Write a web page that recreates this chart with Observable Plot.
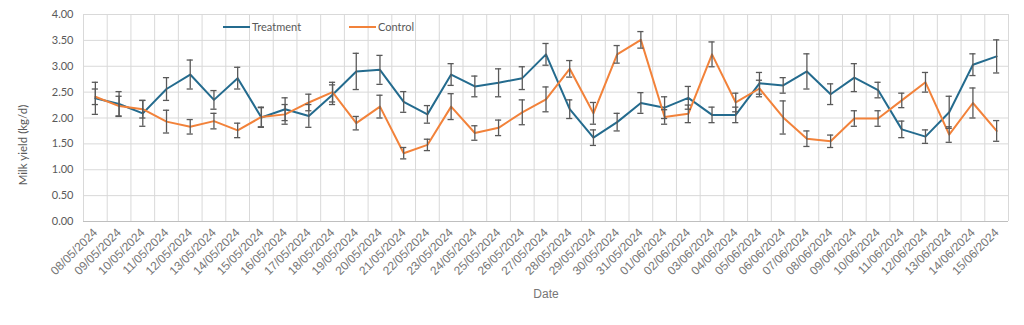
<!DOCTYPE html>
<html>
<head>
<meta charset="utf-8">
<script src="https://cdn.jsdelivr.net/npm/d3@7"></script>
<script src="https://cdn.jsdelivr.net/npm/@observablehq/plot@0.6"></script>
<style>
  html, body { margin: 0; padding: 0; background: #fff; }
  #wrap { position: relative; width: 1024px; height: 325px; font-family: Lato, "Liberation Sans", sans-serif; }
  .legend { position: absolute; top: 20px; left: 223px; display: flex; font-size: 11px; color: #595959; }
  .legend .item { display: flex; align-items: center; margin-right: 48px; }
  .legend .sw { width: 27px; height: 2px; margin-right: 2px; }
  .ylab { position: absolute; left: 22px; top: 145px; transform: translate(-50%, -50%) rotate(-90deg);
          white-space: nowrap; font-size: 11.5px; color: #595959; }
</style>
</head>
<body>
<div id="wrap"></div>
<script>
const dates = ["08/05/2024","09/05/2024","10/05/2024","11/05/2024","12/05/2024","13/05/2024","14/05/2024","15/05/2024","16/05/2024","17/05/2024","18/05/2024","19/05/2024","20/05/2024","21/05/2024","22/05/2024","23/05/2024","24/05/2024","25/05/2024","26/05/2024","27/05/2024","28/05/2024","29/05/2024","30/05/2024","31/05/2024","01/06/2024","02/06/2024","03/06/2024","04/06/2024","05/06/2024","06/06/2024","07/06/2024","08/06/2024","09/06/2024","10/06/2024","11/06/2024","12/06/2024","13/06/2024","14/06/2024","15/06/2024"];
const seriesNames = ["Treatment", "Control"];
const treatment = [2.38,2.27,2.09,2.56,2.84,2.35,2.77,2.01,2.17,2.04,2.45,2.90,2.93,2.31,2.07,2.84,2.61,2.68,2.77,3.23,2.17,1.62,1.92,2.29,2.20,2.39,2.06,2.06,2.67,2.63,2.90,2.46,2.78,2.54,1.78,1.64,2.11,3.03,3.19];
const treatmentErr = [0.31,0.24,0.25,0.22,0.28,0.18,0.21,0.19,0.22,0.22,0.19,0.35,0.28,0.20,0.17,0.21,0.20,0.27,0.22,0.21,0.18,0.15,0.17,0.20,0.21,0.22,0.15,0.15,0.21,0.15,0.34,0.20,0.27,0.15,0.16,0.13,0.31,0.21,0.32];
const control = [2.41,2.23,2.17,1.93,1.83,1.94,1.76,2.02,2.07,2.30,2.50,1.90,2.22,1.32,1.48,2.22,1.71,1.81,2.11,2.36,2.95,2.09,3.23,3.51,2.02,2.08,3.23,2.30,2.57,2.01,1.60,1.55,1.99,1.99,2.34,2.69,1.68,2.29,1.75];
const controlErr = [0.15,0.19,0.17,0.22,0.14,0.15,0.14,0.19,0.19,0.16,0.19,0.13,0.22,0.11,0.11,0.25,0.14,0.15,0.24,0.24,0.16,0.21,0.17,0.16,0.14,0.17,0.24,0.18,0.16,0.32,0.15,0.12,0.15,0.15,0.14,0.19,0.15,0.29,0.20];
const yTicks = [0,0.5,1,1.5,2,2.5,3,3.5,4];
const colors = ["#246B8E", "#F2823A"];
const yLabel = "Milk yield (kg/d)";
const xLabel = "Date";

const rows = [];
dates.forEach((d, k) => {
  rows.push({i: k + 1, date: d, series: "Treatment", value: treatment[k], err: treatmentErr[k]});
});
dates.forEach((d, k) => {
  rows.push({i: k + 1, date: d, series: "Control", value: control[k], err: controlErr[k]});
});
const indices = dates.map((d, k) => k + 1);
const boundaries = d3.range(0, dates.length + 1).map(k => k + 0.5);
const capHalf = 0.13;

const chart = Plot.plot({
  width: 1024,
  height: 325,
  marginLeft: 83,
  marginRight: 16,
  marginTop: 14,
  marginBottom: 104,
  style: {fontFamily: "Lato, 'Liberation Sans', sans-serif", fontSize: "11px", color: "#595959", background: "white"},
  x: {type: "linear", domain: [0.5, dates.length + 0.5]},
  y: {domain: [0, 4]},
  color: {domain: seriesNames, range: colors},
  marks: [
    Plot.ruleY(yTicks, {stroke: "#D9D9D9", strokeWidth: 1}),
    Plot.ruleX(boundaries, {stroke: "#D9D9D9", strokeWidth: 1}),
    Plot.ruleY([0], {stroke: "#BFBFBF", strokeWidth: 1}),
    Plot.axisY({ticks: yTicks, tickFormat: d => d.toFixed(2), tickSize: 0, tickPadding: 10, fontSize: 11, label: null}),
    Plot.axisX({ticks: indices, tickFormat: i => dates[i - 1], tickRotate: -45, tickSize: 0, tickPadding: 9,
      fontSize: 12, fontFamily: "'Liberation Sans', Arial, sans-serif", fill: "#767676",
      label: xLabel, labelAnchor: "center", labelArrow: "none", labelOffset: 76}),
    Plot.line(rows, {x: "i", y: "value", z: "series", stroke: "series", strokeWidth: 2}),
    Plot.ruleX(rows, {x: "i", y1: d => d.value - d.err, y2: d => d.value + d.err, stroke: "#595959", strokeWidth: 1.3}),
    Plot.ruleY(rows, {y: d => d.value + d.err, x1: d => d.i - capHalf, x2: d => d.i + capHalf, stroke: "#595959", strokeWidth: 1.3}),
    Plot.ruleY(rows, {y: d => d.value - d.err, x1: d => d.i - capHalf, x2: d => d.i + capHalf, stroke: "#595959", strokeWidth: 1.3})
  ]
});

const wrap = document.getElementById("wrap");
wrap.appendChild(chart);
const ylab = document.createElement("div");
ylab.className = "ylab";
ylab.textContent = yLabel;
wrap.appendChild(ylab);
const legend = document.createElement("div");
legend.className = "legend";
seriesNames.forEach((name, k) => {
  const item = document.createElement("div");
  item.className = "item";
  const sw = document.createElement("span");
  sw.className = "sw";
  sw.style.background = colors[k];
  const label = document.createElement("span");
  label.textContent = name;
  item.appendChild(sw);
  item.appendChild(label);
  legend.appendChild(item);
});
wrap.appendChild(legend);
</script>
</body>
</html>
